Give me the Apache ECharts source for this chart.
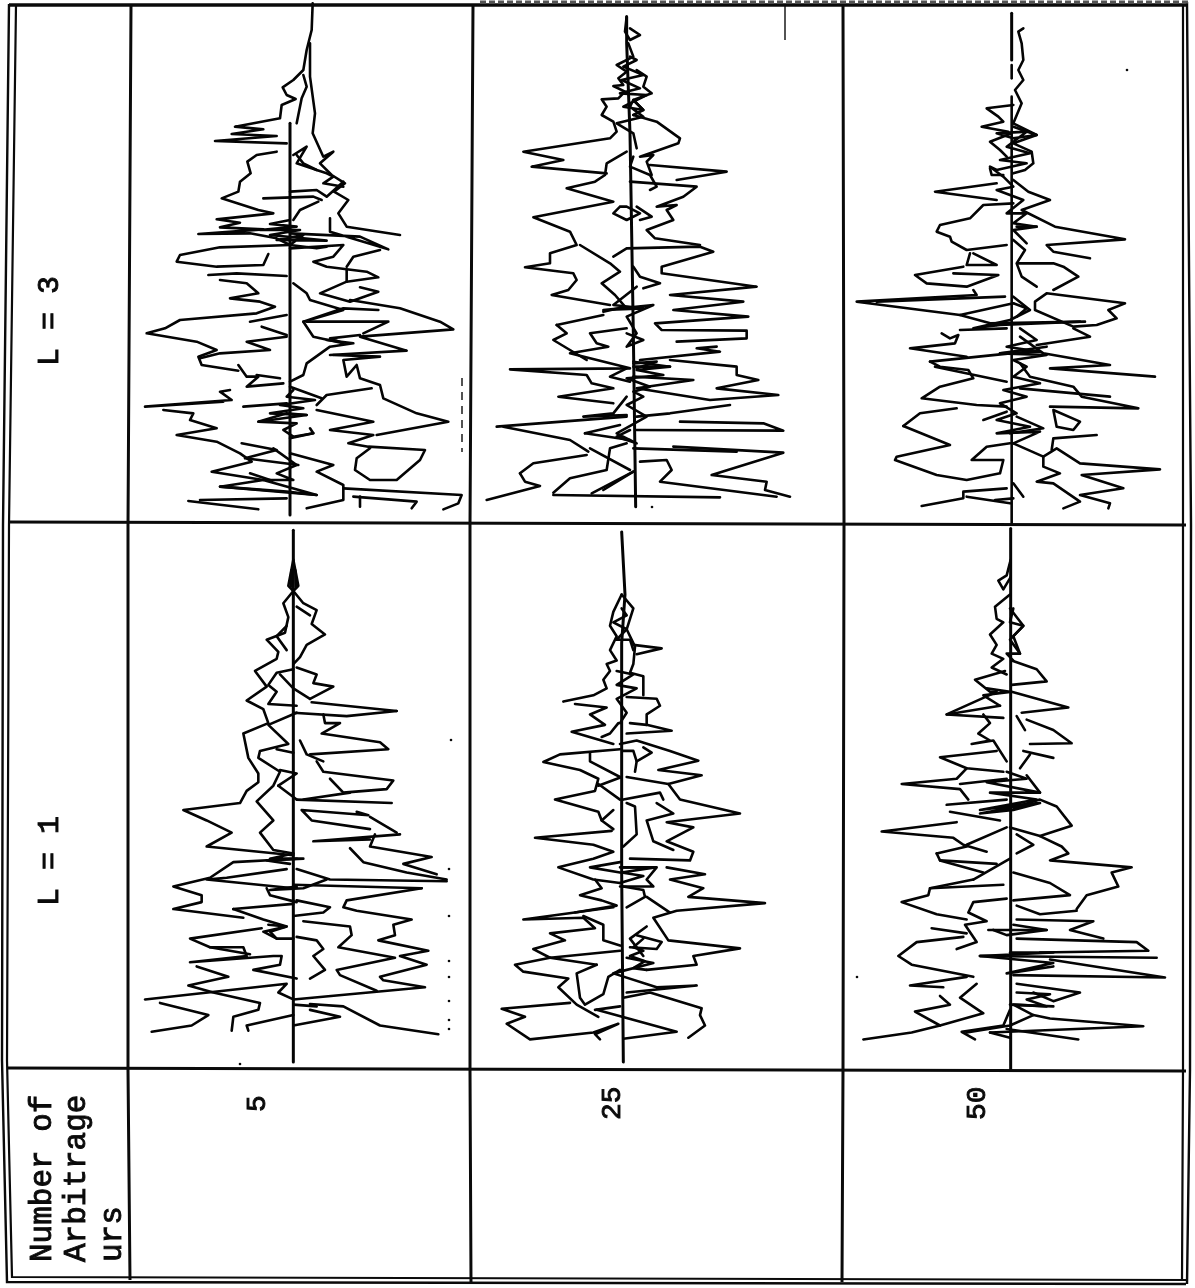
<!DOCTYPE html>
<html><head><meta charset="utf-8">
<style>html,body{margin:0;padding:0;background:#fff}#c{width:1195px;height:1288px}</style>
<script src="https://cdn.jsdelivr.net/npm/echarts@6/dist/echarts.min.js"></script>
</head><body><div id="c"></div>
<script>
// Row / column labels
const rowLabels=["L = 3","L = 1"];
const columnLabels=["5","25","50"];
const cornerLabels=["Number of","Arbitrage","urs"];
// Each list: simulated paths as flat value,time pairs
const L3_N5=[
[480,370,480,1545],
[548,10,545,90,530,150,520,210,490,240,458,262,470,285,497,297,455,315,450,355,315,380,400,388,305,402,440,408,255,423,470,430],
[440,455,380,465,352,485,362,520,330,545,325,575,275,595,385,630,430,640,260,658,330,668,270,682,400,688,205,702,360,700,440,715,480,735,270,742,150,765,140,785,260,800,400,795,415,762],
[235,825,320,820,470,828],
[270,840,350,850,385,880,300,895,390,905,435,920,380,940,150,960,105,985,50,1000,200,1025,260,1050,205,1070,215,1095,325,1112],
[470,1010,350,1025,420,1050,270,1060,210,1075],
[360,965,470,945],[395,980,470,1005],
[325,1095,350,1130,385,1130,350,1160,460,1150],[380,1125,450,1135],
[300,1170,270,1175,305,1200,45,1220,280,1205],
[100,1230,190,1240,180,1260,260,1285,140,1305,260,1325,330,1360,365,1385,245,1415,400,1440,270,1460,560,1485],
[340,1220,470,1210],[385,1265,470,1240,530,1245],[335,1330,440,1350,345,1375,505,1395],[360,1420,420,1440],[175,1503,385,1528],[210,1500,470,1495],
[540,130,540,230,555,340,548,400,580,470,610,455,570,490,605,525,645,550,612,575,655,600,625,640,650,680,810,705],
[520,225,530,260,515,295,500,370],
[490,465,530,440,500,490,560,510],
[480,575,560,570,590,590,640,545],[400,595,550,590,575,600],[490,660,510,630,565,605],
[600,655,600,695,775,748,690,710,480,700],
[480,745,640,735,610,770,550,785,590,800,710,815,745,832,650,845,570,880,660,905,745,875,690,862],
[650,800,670,770,750,750],[650,810,650,845],
[490,850,530,880,540,900,640,930,520,965,640,925,745,930],
[530,965,775,965,700,1000],
[660,900,810,925,930,965,970,988,690,1010,830,1052,600,1065],
[520,965,550,1010,640,1030,600,1015,690,1005],
[480,1145,520,1125,530,1090,600,1040,670,1030,590,1020],
[610,1065,750,1070,640,1080,650,1130,680,1095,690,1135,750,1155,760,1195,860,1240,955,1265,740,1305],
[725,1165,590,1185,560,1215],[480,1160,575,1195],
[560,1230,730,1265,600,1290,730,1305,655,1330,715,1340,885,1350,870,1380,800,1440,720,1440,675,1410,680,1375,720,1345],
[480,1360,610,1395,560,1415,640,1455,640,1500,530,1525],
[640,1465,995,1485,985,1510,940,1528],[670,1490,860,1505,845,1525],[690,1490,690,1520],
[480,1315,550,1300,540,1285],
[480,660,420,672,500,680,390,690,510,690,420,705,590,722,440,720,520,705,480,735,560,745,590,740],
[490,1170,470,1190,555,1200,450,1215,520,1225,420,1240,530,1245,385,1265,500,1270,460,1290,490,1310,550,1300],
[430,1345,500,1395,440,1420,490,1440,400,1440,560,1485,470,1475,270,1460],
[500,465,520,490,560,510,590,520,610,530,580,550,640,560]
];
const L3_N25=[
[470,50,470,130,480,400,490,1000,497,1520],
[250,1485,750,1492],
[470,50,465,95,480,120,510,105,480,85],
[475,130,490,170,440,195,470,215,445,235,460,255,430,258,465,275,445,295,395,298,410,320,395,345,430,365,440,395,420,415,160,455,280,480,185,500,410,520],
[500,210,530,230,520,260,545,280,490,300,520,330,490,345],
[470,455,410,490,405,525,375,545,290,565,430,605,190,652,300,695,320,735,240,760,240,790,165,802,310,820,320,840,295,870,245,885,420,915],
[330,735,420,790,450,815,395,850,435,885,465,920,400,935],
[260,975,400,945],[260,975,290,1000,250,1020,300,1050,350,1080],
[470,985,360,1000,380,1030,415,1040,300,1060,480,1105,120,1108,350,1125,365,1150,430,1165,265,1190,430,1210],
[470,1105,420,1130,480,1145],
[470,1190,430,1240,340,1250,470,1245],
[80,1280,470,1250],[100,1280,300,1320,355,1355],
[150,1420,190,1390,350,1365],[150,1420,165,1445,210,1458,50,1500],
[345,1300,450,1275],[345,1300,480,1320],
[250,1478,300,1435,410,1410,420,1345,470,1330],[365,1480,490,1415],[400,1470,490,1415],[360,1345,480,1410],
[490,345,560,365,630,415,625,430,510,470,550,465,530,485,545,525],
[490,470,480,500,540,525,560,560,540,570],
[540,495,770,515,620,540],
[480,545,680,560,640,590,560,620,620,615,590,630,610,660,530,690,555,715,690,735],
[500,620,545,650,510,660],
[430,770,470,745,690,740,730,755,575,800,575,820,860,860,600,885,820,905,610,930,835,950,555,970,575,990,830,992,830,1015,620,1025],
[490,800,510,830,570,850,520,865],
[740,1040,680,1045,750,1055,510,1080],
[600,1080,800,1100,800,1125,865,1140,740,1165,925,1185,720,1200,500,1165,670,1140,490,1130],
[490,1100,600,1100],
[780,1215,600,1240,500,1250],[630,1265,880,1270,940,1292,500,1290],
[610,1340,940,1358,725,1425,890,1445,885,1470,960,1490],
[490,1345,800,1355],[510,1385,590,1380,605,1410,570,1445,920,1490],
[480,170,500,180,460,200,520,225,455,240,510,265,450,280,530,285,460,320,520,330,490,300,480,320,520,350,440,370,490,400,500,445],
[450,620,430,640,470,660,510,640,470,620,450,620],
[500,860,430,915,520,925,400,930,550,915,470,950,500,1000,470,1040,520,1020,470,1000],
[490,1085,600,1100,500,1110,580,1125,470,1135,540,1160,490,1175,520,1190,470,1215,530,1250,440,1300,500,1330,440,1310,480,1290],
[490,1090,560,1085,500,1105]
];
const L3_N50=[
[515,40,515,180],[515,195,515,235],[515,290,515,1568],
[550,85,535,95,545,130,550,180,535,210,550,240,525,270,545,310,520,370],
[520,315,440,325,475,350,490,365,425,380,505,395],
[515,400,450,425,480,450,500,470],[450,505,455,525,490,525],
[470,550,285,575,470,600],
[520,610,430,615,390,655,300,675,290,695,330,710,335,725,380,750,500,735],
[390,760,380,795,470,795,400,760],
[370,800,225,825,260,850,380,860,475,825,340,820],
[400,870,410,885,50,905,360,945,470,975],[495,890,110,905],[360,945,520,910],
[305,1000,330,1015,355,1005,345,1030,210,1045,380,1070],
[360,990,500,985],[270,1085,510,1060],
[270,1085,300,1100,385,1110,400,1135,300,1160,245,1195,410,1215,500,1220],
[285,1100,500,1145],
[190,1278,240,1240,350,1225],
[190,1278,330,1335,170,1370,165,1380,290,1425,380,1440,480,1420,490,1380,395,1380,440,1340,510,1330],
[430,1260,500,1235],
[245,1518,370,1495,370,1475,500,1465],[380,1490,510,1510],[465,1500,520,1495],
[520,370,590,405,520,430,575,455,580,490,555,510,520,520],
[520,540,565,575,630,600,545,630,645,680,855,718,620,735,640,755,750,775],
[530,680,590,680],
[520,720,555,750,530,790,545,830,590,860],
[535,790,640,790,670,800,715,830,640,870],
[620,880,855,910,805,930,830,955,770,975,700,980,585,930,585,905,620,880],
[520,910,560,925,530,950],[450,970,735,965],[700,985,750,1010,590,1035],
[540,1010,610,1060,810,1095,630,1105,945,1130],[480,1060,620,1040],
[540,1090,570,1130,700,1160,725,1190,895,1225,630,1220],
[540,1165,810,1190],
[530,1250,610,1285,510,1300],
[640,1230,720,1265,700,1290,650,1280,640,1230],[770,1305,640,1315,635,1350],
[520,1330,610,1370,650,1345,720,1390,960,1408,725,1425,850,1465,720,1485,810,1510,805,1525],
[610,1370,610,1400,660,1420,590,1445,640,1450,720,1505,670,1525],
[520,1450,550,1490],
[520,380,590,405,520,415,470,400,560,395,500,440,570,460,480,480,560,490,470,510,450,500,490,530,520,560,470,570,550,600,500,640,560,640,520,670,590,680,520,690,560,730],
[520,890,570,930,510,960,400,985,480,975,720,965],
[540,985,590,1020,500,1040,600,1055,480,1060,620,1065,520,1080,560,1100,520,1130,600,1150,490,1170,560,1190,480,1210,530,1240,470,1260,570,1280,470,1300,600,1295,520,1330]
];
const L1_N5=[
[490,15,490,1545],
[490,100,475,175,490,190,505,175,490,100],
[484,130,482,178],[496,130,498,178],
[490,190,460,225,475,265,465,310,410,330,445,365,440,385,375,420,410,465,350,505,400,530,415,570,340,600,355,670,385,715,385,740,350,765,330,800,160,820,230,850,305,885,230,925,490,950],
[470,290,440,320,470,360],
[490,415,440,425,415,460,440,480,415,515,500,520],
[500,540,415,575,475,630,390,650,385,670,450,710,430,750,380,795,430,850,390,885,430,935,490,945],
[440,645,490,655],[445,750,500,715,450,705],[445,750,500,790],
[500,960,310,970,240,1015,130,1040,215,1065,215,1085,130,1105,340,1130],
[470,990,290,1015,230,1020,490,1045],[410,1045,420,1065,500,1085],
[310,1105,490,1090],[310,1105,400,1135,470,1155,400,1170,440,1190],
[395,1160,180,1190,240,1215,360,1235],
[240,1215,340,1215,350,1240,180,1258,430,1240,455,1240,450,1265,370,1280,500,1305],
[200,1270,295,1300,175,1325,250,1345,390,1375,385,1395,310,1415,305,1455],
[45,1365,470,1320,445,1345,490,1365],[90,1375,235,1410,185,1440,65,1458],[355,1455,350,1440,490,1410],
[490,190,520,225,560,245,545,285,585,315,530,345,510,380,490,400],
[500,235,540,260],[500,410,560,430,550,455,610,465,540,500],
[450,430,490,470,540,500],
[545,510,800,535],[490,540,650,550,800,535],
[580,545,585,570,630,570,575,600,750,625,775,645,540,660],
[510,620,530,660,580,680],[560,680,580,710,790,735,770,760,640,770,600,730],
[520,790,660,770],[500,790,785,800],
[680,825,715,835,515,820,545,850,720,875],[720,840,800,885],
[810,890,550,910,720,905],[735,890,720,925,905,955,820,975,920,1005],
[660,930,700,970,830,1000,950,1020],
[500,990,600,1020,950,1025],[490,1035,875,1045],
[875,1045,650,1080,640,1100,680,1110,845,1135,790,1150,795,1180,745,1195,895,1225,810,1240,890,1265,750,1300,760,1310,885,1330,490,1365],
[500,1080,600,1100,580,1115,490,1125],
[520,1140,660,1155,665,1180,625,1215,795,1245,620,1280,630,1295,740,1340],
[500,1185,560,1195,580,1220,550,1240,585,1280,540,1305],
[540,1378,640,1385,750,1440,925,1465],[490,1380,560,1385],[540,1395,630,1415,490,1440],
[490,945,420,960,520,960,410,965,480,975],
[500,1040,420,1050,520,1045,590,1020],
[415,1150,470,1155,420,1170,440,1190,490,1190]
];
const L1_N25=[
[455,20,465,200,455,340,455,1000,460,1545],
[455,200,430,250,420,290,440,320,420,360,440,390,410,400,420,420,400,445,410,470,370,490,280,508],
[315,515,410,525,360,545,405,575,305,595,430,630],
[445,570,420,600,395,610],
[450,645,270,660,220,682,330,705,385,730,375,765,255,790,385,825,395,850,430,875],
[360,655,360,680,450,725],[385,750,455,725],[385,745,450,790],[430,820,395,850],
[425,880,195,900,370,920,430,940,370,960,265,985,370,1020,450,1030],
[450,970,360,985,450,1000],
[375,1020,395,1045,330,1065,395,1080,440,1095,315,1115],
[430,1100,160,1135,340,1130,375,1160,240,1175,285,1195,190,1220,240,1245,450,1225],
[340,1125,400,1150,400,1195,450,1210],
[240,1245,135,1265,160,1285,295,1305,265,1330,320,1380,385,1415],
[380,1265,240,1245],[380,1265,320,1290,330,1360,345,1380,400,1350,415,1300,450,1280],
[300,1375,95,1392,165,1415,110,1435,180,1480,370,1460,445,1435,375,1465,390,1480],[375,1395,450,1385],
[455,200,490,240,470,300,495,350,490,400,480,425,520,435,520,490],
[490,345,575,355,500,372],
[470,495,560,500,570,520,530,545,530,575],
[480,570,530,575,605,592,470,600],
[450,630,500,620,600,650,685,678,565,705,695,720,595,745],
[460,650,490,650,500,680],[520,640,545,655,500,680,495,710],
[470,725,595,745,630,790,810,830,590,855,670,870,590,910,670,940,660,965,480,960],
[460,790,570,770,580,790],[560,800,610,830,530,850,550,910,610,935],
[470,800,495,810,500,890,460,925],
[590,985,705,1005,600,1020,700,1045,655,1070,885,1088,620,1110,550,1130,595,1195,810,1218,670,1240,680,1265,530,1280],
[450,985,560,985,530,1020,550,1040,450,1040],
[460,1040,520,1050,525,1070,470,1100],[530,1070,600,1115],
[530,1155,480,1190,520,1240],[500,1180,575,1200,560,1220,480,1215],
[470,1245,550,1260,430,1290,560,1330,680,1325,470,1345],
[460,1360,540,1345,695,1390,690,1410,705,1440,655,1475],
[380,1395,620,1458,460,1478],
[455,240,470,260,430,280,470,300,440,330,480,330,490,360],
[440,420,490,430,440,460,500,470,440,500,470,540,450,570],
[455,985,555,985,455,1000,520,1010,450,1030],
[520,1190,490,1215,520,1225,480,1240,525,1255,490,1275,530,1280]
];
const L1_N50=[
[512,10,512,1568],
[512,100,500,145,475,160,490,185,512,150],
[510,200,465,235,470,270,490,280,450,315,470,345,455,370,490,385,455,410,500,430],
[495,420,405,445,450,480,470,480,320,545,490,555],
[480,520,320,545],
[430,545,450,570,415,600,450,620,395,630,460,620,500,680],
[470,650,300,668,380,700,490,710],
[380,700,350,730,185,745,360,760,385,790],
[360,745,500,730],[320,805,500,790],[330,825,480,850],
[350,855,125,882,340,900,370,920,440,940],[500,870,380,920],
[290,945,300,965,430,1000],[290,945,380,925],[300,965,470,975],[400,1020,510,960],
[400,1020,270,1045,265,1065,185,1085,290,1120,380,1135],[490,1035,270,1045],
[500,1075,400,1085,385,1115,440,1140,375,1150,410,1200,350,1220],[275,1160,380,1175],
[370,1185,230,1200,175,1240,215,1265,400,1300],[420,1240,510,1240],
[380,1300,210,1325,310,1330],
[410,1320,360,1360,430,1405,300,1440],
[300,1355,330,1380,225,1400,300,1440,215,1460,70,1480],
[510,1395,490,1440,365,1458,405,1480],[450,1460,510,1475],
[515,390,590,415,620,450,515,460],
[515,480,685,525,545,540],[530,550,555,590],[560,560,640,590,695,628,570,630],
[510,240,550,290,520,320,540,370],
[550,650,640,670],[540,700,570,660],
[560,720,600,770],[530,810,600,790,650,810,695,865,600,895,510,870],
[600,895,665,925,685,945,630,965,875,985,815,1000,835,1040,740,1065,710,1105],
[520,1000,630,1030,690,1065,520,1080],[530,890,580,920,530,945],
[530,1095,600,1120,710,1110],[530,1135,760,1140,690,1165,790,1190],
[445,1165,620,1165],[530,1190,890,1200,925,1225,600,1230],
[420,1240,950,1245],[630,1250,975,1302,520,1295],
[530,1320,720,1345,640,1370,580,1345],[510,1380,640,1385],[580,1410,630,1420,910,1442,450,1460],
[500,1450,715,1480],
[520,240,510,280,550,290,510,330,540,370,500,370,520,390],
[440,470,510,480,430,490,480,520],
[500,710,560,730,440,740,600,770,450,770,590,790,420,820,500,810,600,800,520,820,420,830,590,800],
[520,1150,620,1165,500,1180,460,1165],
[510,1230,640,1230,420,1240,640,1260,500,1290,640,1270],
[530,1345,630,1350,560,1365,620,1385,520,1380,580,1410,510,1440,380,1460]
];
const panels=[
 {d:L3_N5, box:[130,0,340,525],  ext:[1020,1575]},
 {d:L3_N25,box:[470,0,375,525],  ext:[1125,1575]},
 {d:L3_N50,box:[840,0,355,525],  ext:[1065,1575]},
 {d:L1_N5, box:[130,525,340,545],ext:[1020,1568]},
 {d:L1_N25,box:[470,525,375,545],ext:[1125,1568]},
 {d:L1_N50,box:[840,525,355,545],ext:[1065,1568]}
];
const grid=[],xAxis=[],yAxis=[],series=[];
panels.forEach((p,i)=>{
 grid.push({left:p.box[0],top:p.box[1],width:p.box[2],height:p.box[3],show:false});
 xAxis.push({type:'value',gridIndex:i,min:0,max:p.ext[0],show:false});
 yAxis.push({type:'value',gridIndex:i,min:0,max:p.ext[1],inverse:true,show:false});
 p.d.forEach((flat,j)=>{
  const pts=[];for(let k=0;k<flat.length;k+=2)pts.push([flat[k],flat[k+1]]);
  series.push({type:'line',xAxisIndex:i,yAxisIndex:i,data:pts,symbol:'none',silent:true,animation:false,
   lineStyle:{color:'#040404',width:j===0?3:2.6,join:'round',cap:'round'},z:2});
 });
});
const INK='#0a0a0a';
const poly=(pts,w,extra)=>({type:'polyline',silent:true,shape:{points:pts},style:Object.assign({stroke:INK,lineWidth:w,fill:null},extra||{}),z:5});
const dot=(x,y)=>({type:'circle',silent:true,shape:{cx:x,cy:y,r:1.3},style:{fill:INK},z:5});
const txt=(t,x,y,size)=>({type:'text',x:x,y:y,rotation:Math.PI/2,silent:true,z:6,
 style:{text:t,font:`${size}px "Liberation Mono", monospace`,fill:'#0a0a0a',textAlign:'left',textVerticalAlign:'middle',stroke:'#0a0a0a',lineWidth:0.9}});
const graphic=[
 poly([[9,4],[3,525],[2,1060],[7,1282],[1186,1284]],2.4),
 poly([[16,5],[9,525],[7,1060],[12,1277],[1186,1280]],2.2),
 poly([[1187,2],[1191,525],[1190,1070],[1187,1284]],2.4),
 poly([[1183,6],[1183,525],[1183,1070],[1182,1280]],2.2),
 poly([[9,5],[1187,5]],3.4),
 poly([[131,5],[128,525],[128,1070],[130,1280]],3),
 poly([[473,5],[470,525],[470,1070],[471,1282]],3),
 poly([[843,5],[844,525],[843,1070],[842,1282]],3),
 poly([[10,522],[1186,525]],3),
 poly([[8,1068],[1186,1071]],3),
 poly([[480,2],[1190,2]],3,{lineDash:[6,3],stroke:'#555'}),
 poly([[785,5],[785,40]],1.4),
 poly([[462,378],[462,452]],1.4,{lineDash:[8,6]}),
 dot(451,740),dot(449,869),dot(449,916),dot(449,961),dot(449,977),dot(449,1001),dot(449,1020),dot(449,1029),
 dot(1127,70),dot(857,977),dot(652,507),dot(240,1064),
 txt(rowLabels[0],50,366,30),
 txt(rowLabels[1],50,906,30),
 txt(columnLabels[0],258,1112,28),
 txt(columnLabels[1],613,1120,28),
 txt(columnLabels[2],978,1120,28),
 txt(cornerLabels[0],43,1262,31),
 txt(cornerLabels[1],77,1262,31),
 txt(cornerLabels[2],113,1262,31)
];
const chart=echarts.init(document.getElementById('c'),null,{renderer:'canvas'});
chart.setOption({backgroundColor:'#fff',animation:false,tooltip:{show:false},grid,xAxis,yAxis,series,graphic});
</script></body></html>
